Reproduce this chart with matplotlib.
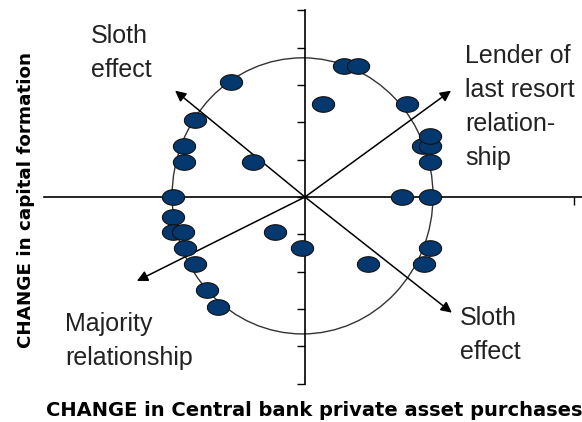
import numpy as np
import matplotlib
matplotlib.use("Agg")
import matplotlib.pyplot as plt
from matplotlib.path import Path
from matplotlib.patches import Ellipse

# observations: change in central bank purchases (x) vs change in capital formation (y)
x_vals = [-2.75, 1.45, 1.97, 0.67, 3.79, -4.09, -4.50, -4.50, -1.93, 4.39,
          4.65, 4.65, 4.65, -4.91, 3.61, 4.65, -4.91, -4.91, -4.54, -4.46,
          -4.09, -1.12, -0.11, 2.34, 4.65, 4.42, -3.64, -3.23]
y_vals = [3.08, 3.51, 3.51, 2.49, 2.49, 2.06, 1.37, 0.94, 0.94, 1.37,
          1.37, 1.64, 0.94, 0.0, 0.0, 0.0, -0.54, -0.94, -0.94, -1.37,
          -1.80, -0.94, -1.37, -1.80, -1.37, -1.80, -2.49, -2.95]

# guide ellipse (centre x, centre y, width, height)
ring = [-0.09, 0.03, 9.7, 7.4]

# arrow tips from origin
arrow_tips = [(-4.83, 2.85), (5.43, 2.85), (5.46, -3.10), (-6.25, -2.25)]

y_ticks = [-5, -4, -3, -2, -1, 0, 1, 2, 3, 4, 5]
x_ticks = [10]

fig = plt.figure(figsize=(5.82, 4.22), dpi=100)
ax = fig.add_axes([0, 0, 1, 1])
ax.set_xlim(-11.34, 10.30)
ax.set_ylim(-6.03, 5.28)
ax.patch.set_visible(False)

for s in ["top", "right"]:
    ax.spines[s].set_visible(False)
ax.spines["left"].set_position(("data", 0))
ax.spines["bottom"].set_position(("data", 0))
ax.spines["left"].set_bounds(-5, 5)
ax.spines["bottom"].set_bounds(-9.7, 10.3)
for s in ["left", "bottom"]:
    ax.spines[s].set_linewidth(1.2)
ax.set_yticks(y_ticks)
ax.set_xticks(x_ticks)
ax.tick_params(axis="y", direction="out", length=6, width=1, labelleft=False)
ax.tick_params(axis="x", direction="out", length=5.5, width=1, labelbottom=False)

ax.add_patch(Ellipse((ring[0], ring[1]), ring[2], ring[3], fill=False,
                     edgecolor="#333333", lw=1.0, zorder=2))

for tx, ty in arrow_tips:
    ax.annotate("", xy=(tx, ty), xytext=(0, 0),
                arrowprops=dict(arrowstyle="-|>", color="black", lw=1.1,
                                mutation_scale=16, shrinkA=0, shrinkB=0),
                zorder=3)

# oval marker
t = np.linspace(0, 2 * np.pi, 60)
oval = Path(np.column_stack([np.cos(t), 0.7 * np.sin(t)]), closed=True)
ax.plot(x_vals, y_vals, linestyle="none", marker=oval, ms=16,
        mfc="#04386e", mec="#111111", mew=0.8, zorder=4)

txt = dict(fontsize=18, family="Liberation Sans", color="#222222",
           transform=ax.transAxes, ha="left", va="top", linespacing=1.53)
ax.text(91 / 582, 1 - 24 / 422, "Sloth\neffect", **txt)
ax.text(465 / 582, 1 - 44 / 422, "Lender of\nlast resort\nrelation-\nship", **txt)
ax.text(460 / 582, 1 - 306 / 422, "Sloth\neffect", **txt)
ax.text(65 / 582, 1 - 312 / 422, "Majority\nrelationship", **txt)

fig.text(26 / 582, 1 - 200 / 422, "CHANGE in capital formation", rotation=90,
         ha="center", va="center", fontsize=13.2, fontweight="bold",
         family="DejaVu Sans")
fig.text(314 / 582, 1 - 411 / 422, "CHANGE in Central bank private asset purchases",
         ha="center", va="center", fontsize=14, fontweight="bold",
         family="DejaVu Sans")

fig.savefig("out.png", dpi=100)
